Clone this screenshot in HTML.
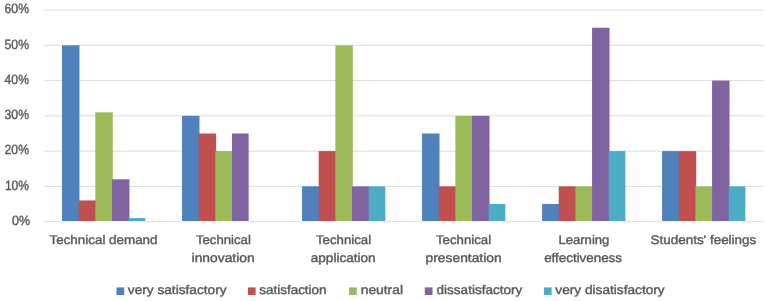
<!DOCTYPE html>
<html><head><meta charset="utf-8"><title>chart</title>
<style>
html,body{margin:0;padding:0;background:#fff;}
body{width:767px;height:301px;overflow:hidden;}
svg{display:block;will-change:transform;}
text{font-family:"Liberation Sans",sans-serif;fill:#595959;stroke:#595959;stroke-width:0.4px;text-rendering:geometricPrecision;}
</style></head><body>
<svg width="767" height="301" viewBox="0 0 767 301">
<rect width="767" height="301" fill="#ffffff"/>
<line x1="44.3" y1="186.35" x2="763.4" y2="186.35" stroke="#d2d2d2" stroke-width="0.8"/>
<line x1="44.3" y1="151.10" x2="763.4" y2="151.10" stroke="#d2d2d2" stroke-width="0.8"/>
<line x1="44.3" y1="115.85" x2="763.4" y2="115.85" stroke="#d2d2d2" stroke-width="0.8"/>
<line x1="44.3" y1="80.60" x2="763.4" y2="80.60" stroke="#d2d2d2" stroke-width="0.8"/>
<line x1="44.3" y1="45.35" x2="763.4" y2="45.35" stroke="#d2d2d2" stroke-width="0.8"/>
<line x1="44.3" y1="10.10" x2="763.4" y2="10.10" stroke="#d2d2d2" stroke-width="0.8"/>
<line x1="44.30" y1="221.60" x2="62.00" y2="221.60" stroke="#d2d2d2" stroke-width="0.8"/>
<line x1="145.30" y1="221.60" x2="182.02" y2="221.60" stroke="#d2d2d2" stroke-width="0.8"/>
<line x1="248.66" y1="221.60" x2="302.04" y2="221.60" stroke="#d2d2d2" stroke-width="0.8"/>
<line x1="385.34" y1="221.60" x2="422.06" y2="221.60" stroke="#d2d2d2" stroke-width="0.8"/>
<line x1="505.36" y1="221.60" x2="542.08" y2="221.60" stroke="#d2d2d2" stroke-width="0.8"/>
<line x1="625.38" y1="221.60" x2="662.10" y2="221.60" stroke="#d2d2d2" stroke-width="0.8"/>
<line x1="745.40" y1="221.60" x2="763.40" y2="221.60" stroke="#d2d2d2" stroke-width="0.8"/>
<rect x="62.00" y="45.35" width="17.46" height="175.75" fill="#4f81bd"/>
<rect x="78.66" y="200.45" width="17.46" height="20.65" fill="#c0504d"/>
<rect x="95.32" y="112.32" width="17.46" height="108.78" fill="#9bbb59"/>
<rect x="111.98" y="179.30" width="17.46" height="41.80" fill="#8064a2"/>
<rect x="128.64" y="218.07" width="16.66" height="3.03" fill="#4bacc6"/>
<rect x="182.02" y="115.85" width="17.46" height="105.25" fill="#4f81bd"/>
<rect x="198.68" y="133.47" width="17.46" height="87.62" fill="#c0504d"/>
<rect x="215.34" y="151.10" width="17.46" height="70.00" fill="#9bbb59"/>
<rect x="232.00" y="133.47" width="16.66" height="87.62" fill="#8064a2"/>
<rect x="302.04" y="186.35" width="17.46" height="34.75" fill="#4f81bd"/>
<rect x="318.70" y="151.10" width="17.46" height="70.00" fill="#c0504d"/>
<rect x="335.36" y="45.35" width="17.46" height="175.75" fill="#9bbb59"/>
<rect x="352.02" y="186.35" width="17.46" height="34.75" fill="#8064a2"/>
<rect x="368.68" y="186.35" width="16.66" height="34.75" fill="#4bacc6"/>
<rect x="422.06" y="133.47" width="17.46" height="87.62" fill="#4f81bd"/>
<rect x="438.72" y="186.35" width="17.46" height="34.75" fill="#c0504d"/>
<rect x="455.38" y="115.85" width="17.46" height="105.25" fill="#9bbb59"/>
<rect x="472.04" y="115.85" width="17.46" height="105.25" fill="#8064a2"/>
<rect x="488.70" y="203.97" width="16.66" height="17.12" fill="#4bacc6"/>
<rect x="542.08" y="203.97" width="17.46" height="17.12" fill="#4f81bd"/>
<rect x="558.74" y="186.35" width="17.46" height="34.75" fill="#c0504d"/>
<rect x="575.40" y="186.35" width="17.46" height="34.75" fill="#9bbb59"/>
<rect x="592.06" y="27.72" width="17.46" height="193.38" fill="#8064a2"/>
<rect x="608.72" y="151.10" width="16.66" height="70.00" fill="#4bacc6"/>
<rect x="662.10" y="151.10" width="17.46" height="70.00" fill="#4f81bd"/>
<rect x="678.76" y="151.10" width="17.46" height="70.00" fill="#c0504d"/>
<rect x="695.42" y="186.35" width="17.46" height="34.75" fill="#9bbb59"/>
<rect x="712.08" y="80.60" width="17.46" height="140.50" fill="#8064a2"/>
<rect x="728.74" y="186.35" width="16.66" height="34.75" fill="#4bacc6"/>
<text x="12.0" y="224.90" font-size="13.4" textLength="18.0" lengthAdjust="spacingAndGlyphs">0%</text>
<text x="4.9" y="189.65" font-size="13.4" textLength="24.1" lengthAdjust="spacingAndGlyphs">10%</text>
<text x="4.6" y="154.40" font-size="13.4" textLength="24.4" lengthAdjust="spacingAndGlyphs">20%</text>
<text x="4.6" y="119.15" font-size="13.4" textLength="24.4" lengthAdjust="spacingAndGlyphs">30%</text>
<text x="4.6" y="83.90" font-size="13.4" textLength="24.4" lengthAdjust="spacingAndGlyphs">40%</text>
<text x="4.6" y="48.65" font-size="13.4" textLength="24.4" lengthAdjust="spacingAndGlyphs">50%</text>
<text x="4.6" y="13.40" font-size="13.4" textLength="24.4" lengthAdjust="spacingAndGlyphs">60%</text>
<text x="49.5" y="244.0" font-size="12.5" textLength="108.0" lengthAdjust="spacingAndGlyphs">Technical demand</text>
<text x="195.9" y="244.0" font-size="12.5" textLength="55.0" lengthAdjust="spacingAndGlyphs">Technical</text>
<text x="191.6" y="262.3" font-size="12.5" textLength="63.1" lengthAdjust="spacingAndGlyphs">innovation</text>
<text x="316.0" y="244.0" font-size="12.5" textLength="55.1" lengthAdjust="spacingAndGlyphs">Technical</text>
<text x="310.8" y="262.3" font-size="12.5" textLength="64.8" lengthAdjust="spacingAndGlyphs">application</text>
<text x="436.0" y="244.0" font-size="12.5" textLength="55.1" lengthAdjust="spacingAndGlyphs">Technical</text>
<text x="425.6" y="262.3" font-size="12.5" textLength="76.0" lengthAdjust="spacingAndGlyphs">presentation</text>
<text x="558.4" y="244.0" font-size="12.5" textLength="51.0" lengthAdjust="spacingAndGlyphs">Learning</text>
<text x="544.2" y="262.3" font-size="12.5" textLength="77.8" lengthAdjust="spacingAndGlyphs">effectiveness</text>
<text x="650.5" y="244.0" font-size="12.5" textLength="105.8" lengthAdjust="spacingAndGlyphs">Students' feelings</text>
<rect x="116.5" y="287.4" width="7.7" height="7.6" fill="#4f81bd"/>
<text x="127.8" y="294.2" font-size="12.5" textLength="98.8" lengthAdjust="spacingAndGlyphs">very satisfactory</text>
<rect x="247.9" y="287.4" width="7.7" height="7.6" fill="#c0504d"/>
<text x="259.2" y="294.2" font-size="12.5" textLength="67.4" lengthAdjust="spacingAndGlyphs">satisfaction</text>
<rect x="349.1" y="287.4" width="7.7" height="7.6" fill="#9bbb59"/>
<text x="360.7" y="294.2" font-size="12.5" textLength="42.3" lengthAdjust="spacingAndGlyphs">neutral</text>
<rect x="424.8" y="287.4" width="7.7" height="7.6" fill="#8064a2"/>
<text x="436.6" y="294.2" font-size="12.5" textLength="85.6" lengthAdjust="spacingAndGlyphs">dissatisfactory</text>
<rect x="543.9" y="287.4" width="7.7" height="7.6" fill="#4bacc6"/>
<text x="555.3" y="294.2" font-size="12.5" textLength="109.4" lengthAdjust="spacingAndGlyphs">very disatisfactory</text>
</svg>
</body></html>
